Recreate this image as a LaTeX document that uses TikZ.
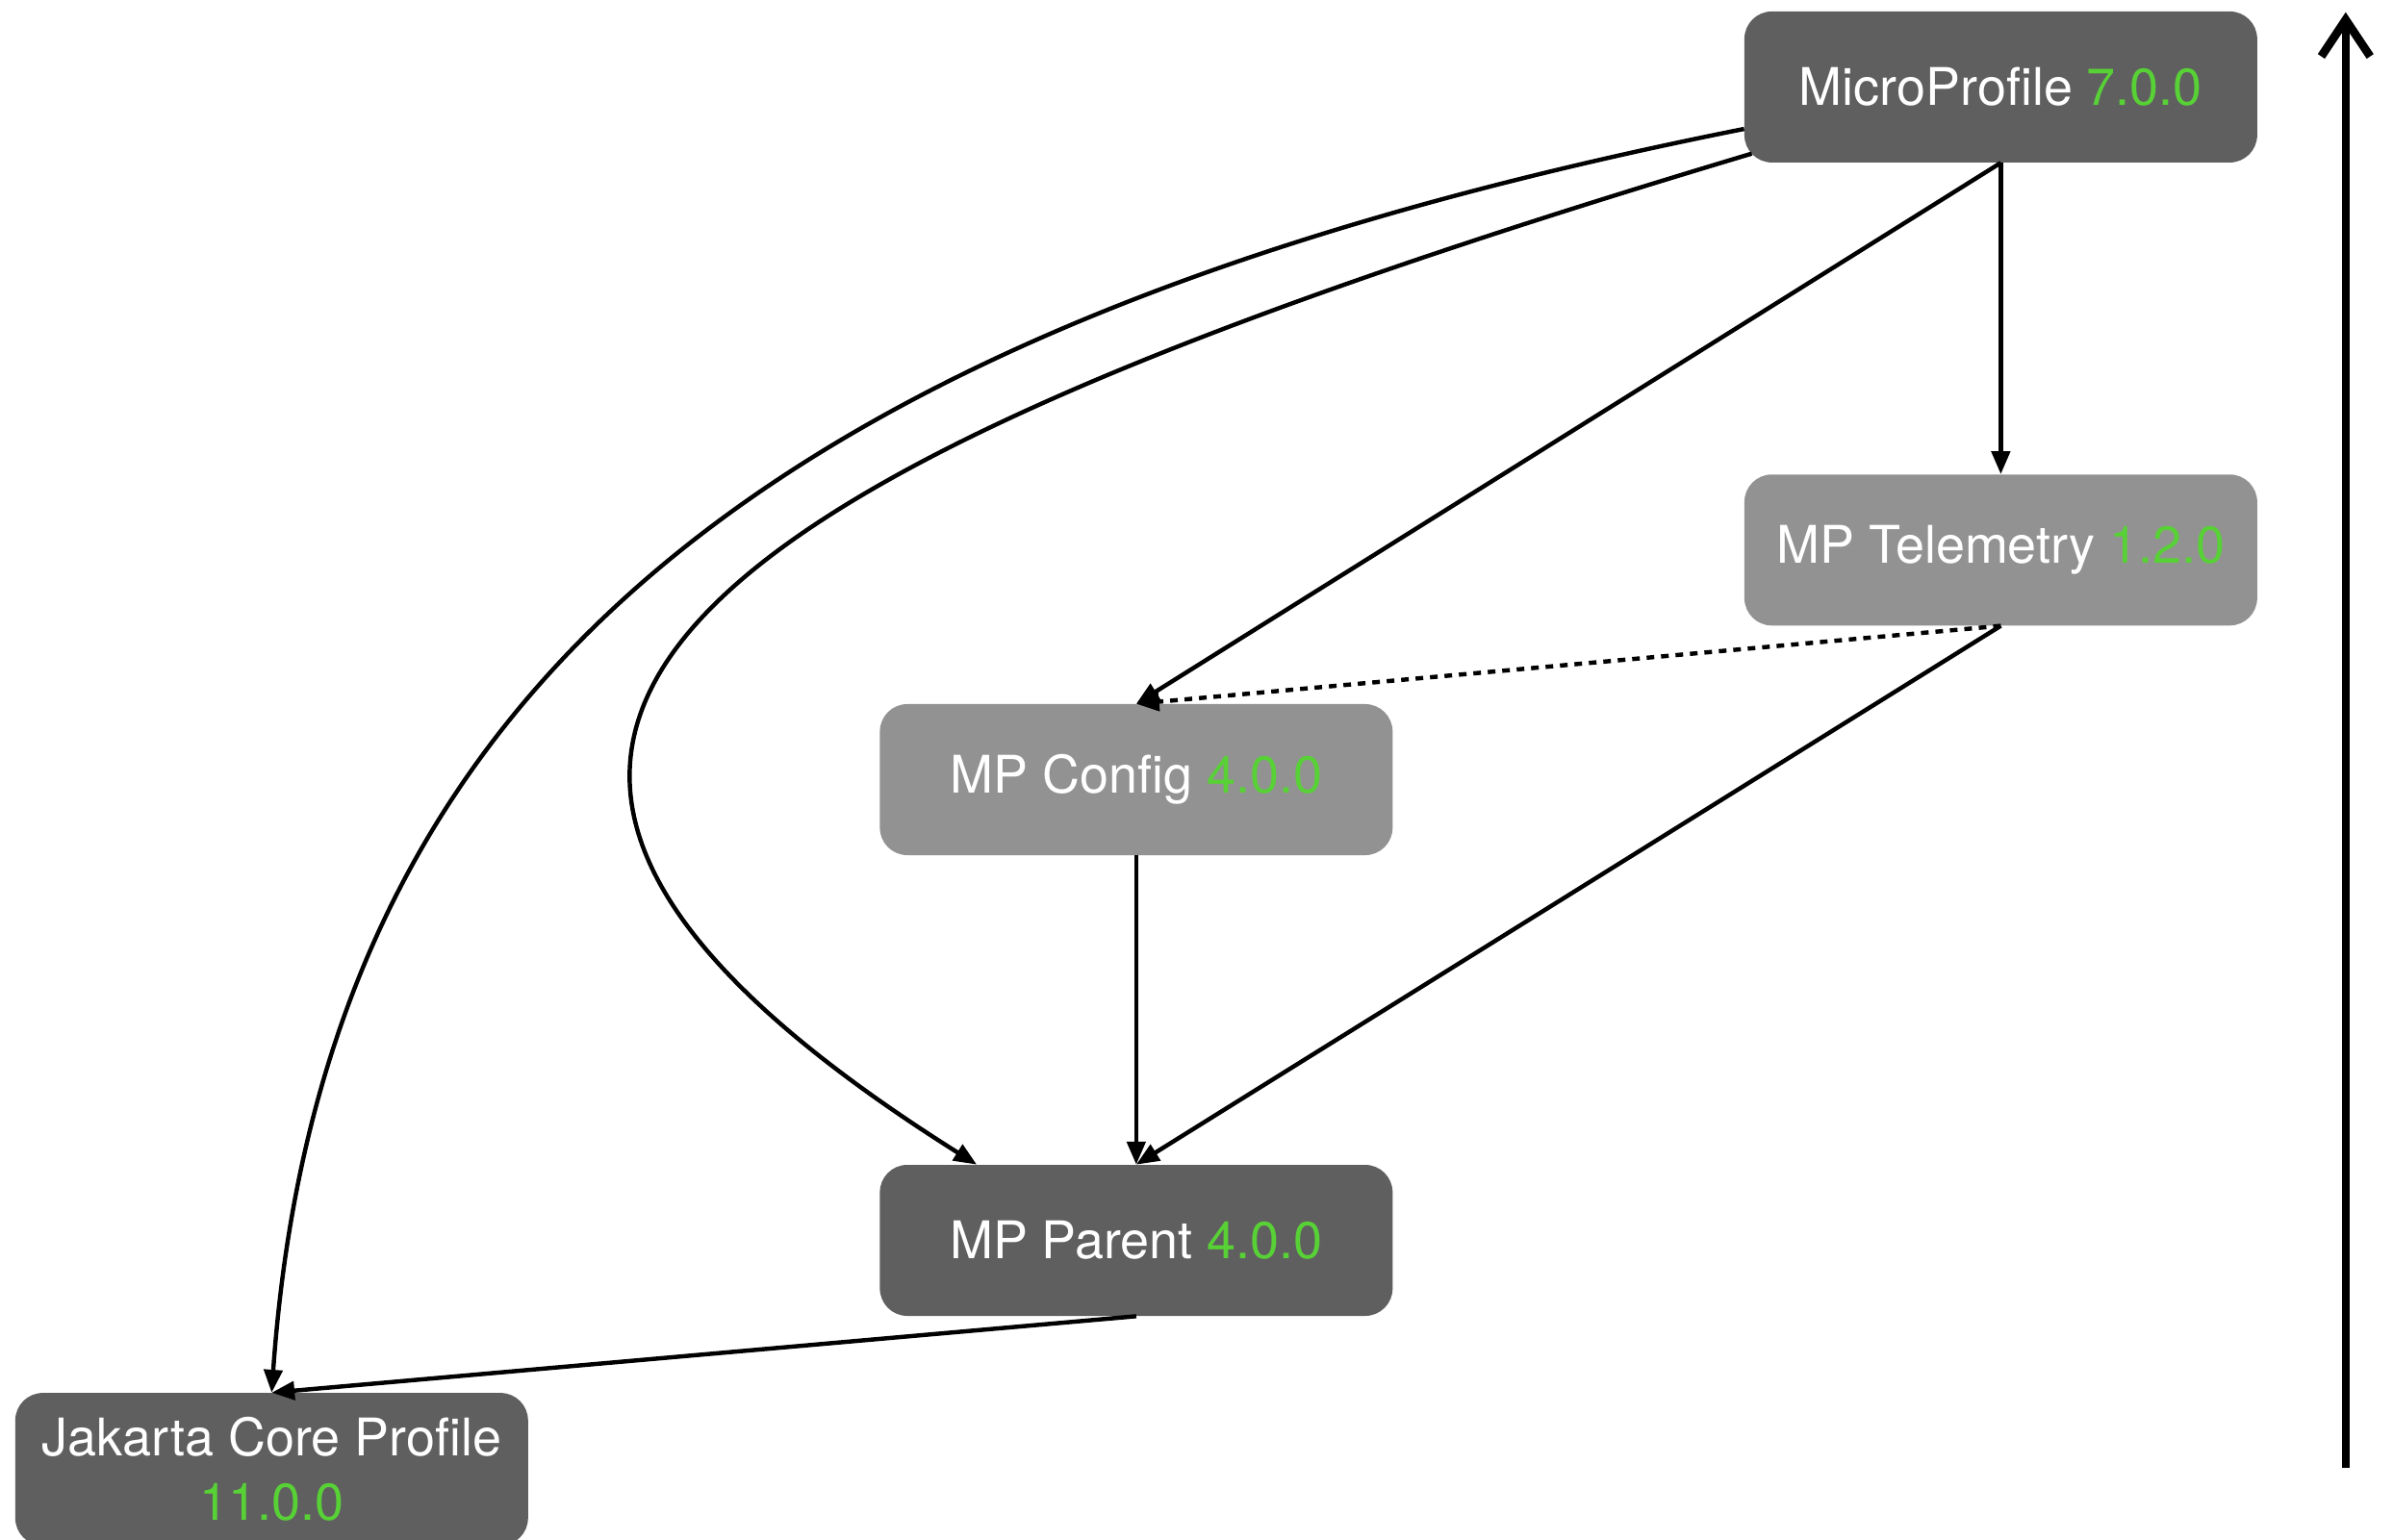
\documentclass[tikz,border=0pt]{standalone}
\usepackage{fontspec}
\setmainfont{TeX Gyre Heros}
\usetikzlibrary{arrows.meta}
\definecolor{darkbox}{RGB}{95,95,95}
\definecolor{lightbox}{RGB}{146,146,146}
\definecolor{vgreen}{RGB}{88,209,54}
\begin{document}
\begin{tikzpicture}[x=1pt,y=-1pt,
  box/.style={rounded corners=18pt, minimum width=336pt, minimum height=99pt,
    text=white, font=\fontsize{34}{42}\selectfont, align=center, inner sep=0pt},
  darknode/.style={box, fill=darkbox},
  lightnode/.style={box, fill=lightbox},
  conn/.style={line width=2.8pt, -{Triangle[length=15pt,width=12pt]}},
  dotconn/.style={conn, dash pattern=on 5pt off 4.5pt},
  axis/.style={line width=5.5pt, -{Straight Barb[length=24pt,width=32pt]}},
]
\useasboundingbox (0,0) rectangle (1568,1009);
\clip (0,0) rectangle (1568,1009);
\node[darknode] (mp) at (1311,57) {MicroProfile \textcolor{vgreen}{7.0.0}};
\node[lightnode] (tel) at (1311,360.5) {MP Telemetry \textcolor{vgreen}{1.2.0}};
\node[lightnode] (cfg) at (744.5,511) {MP Config \textcolor{vgreen}{4.0.0}};
\node[darknode] (par) at (744.5,813) {MP Parent \textcolor{vgreen}{4.0.0}};
\node[darknode, minimum height=100pt] (jak) at (178,963) {Jakarta Core Profile\\\textcolor{vgreen}{11.0.0}};
\coordinate (axb) at (1537,962);
\coordinate (axt) at (1537,8);

\draw[conn] (mp.south) -- (tel.north);
\draw[conn] (mp.south) -- (cfg.north);
\draw[dotconn] (tel.south) -- (cfg.north);
\draw[conn] (tel.south) -- (par.north);
\draw[conn] (cfg.south) -- (par.north);
\draw[conn] (par.south) -- (jak.north);
\draw[conn] ([yshift=-27.5pt]mp.west) .. controls (493,214) and (210,458) .. (jak.north);
\draw[conn] ([xshift=5pt,yshift=6pt]mp.south west) .. controls (448,310) and (190,480) .. ([xshift=-104.5pt]par.north);
\draw[axis] (axb) -- (axt);
\end{tikzpicture}
\end{document}
